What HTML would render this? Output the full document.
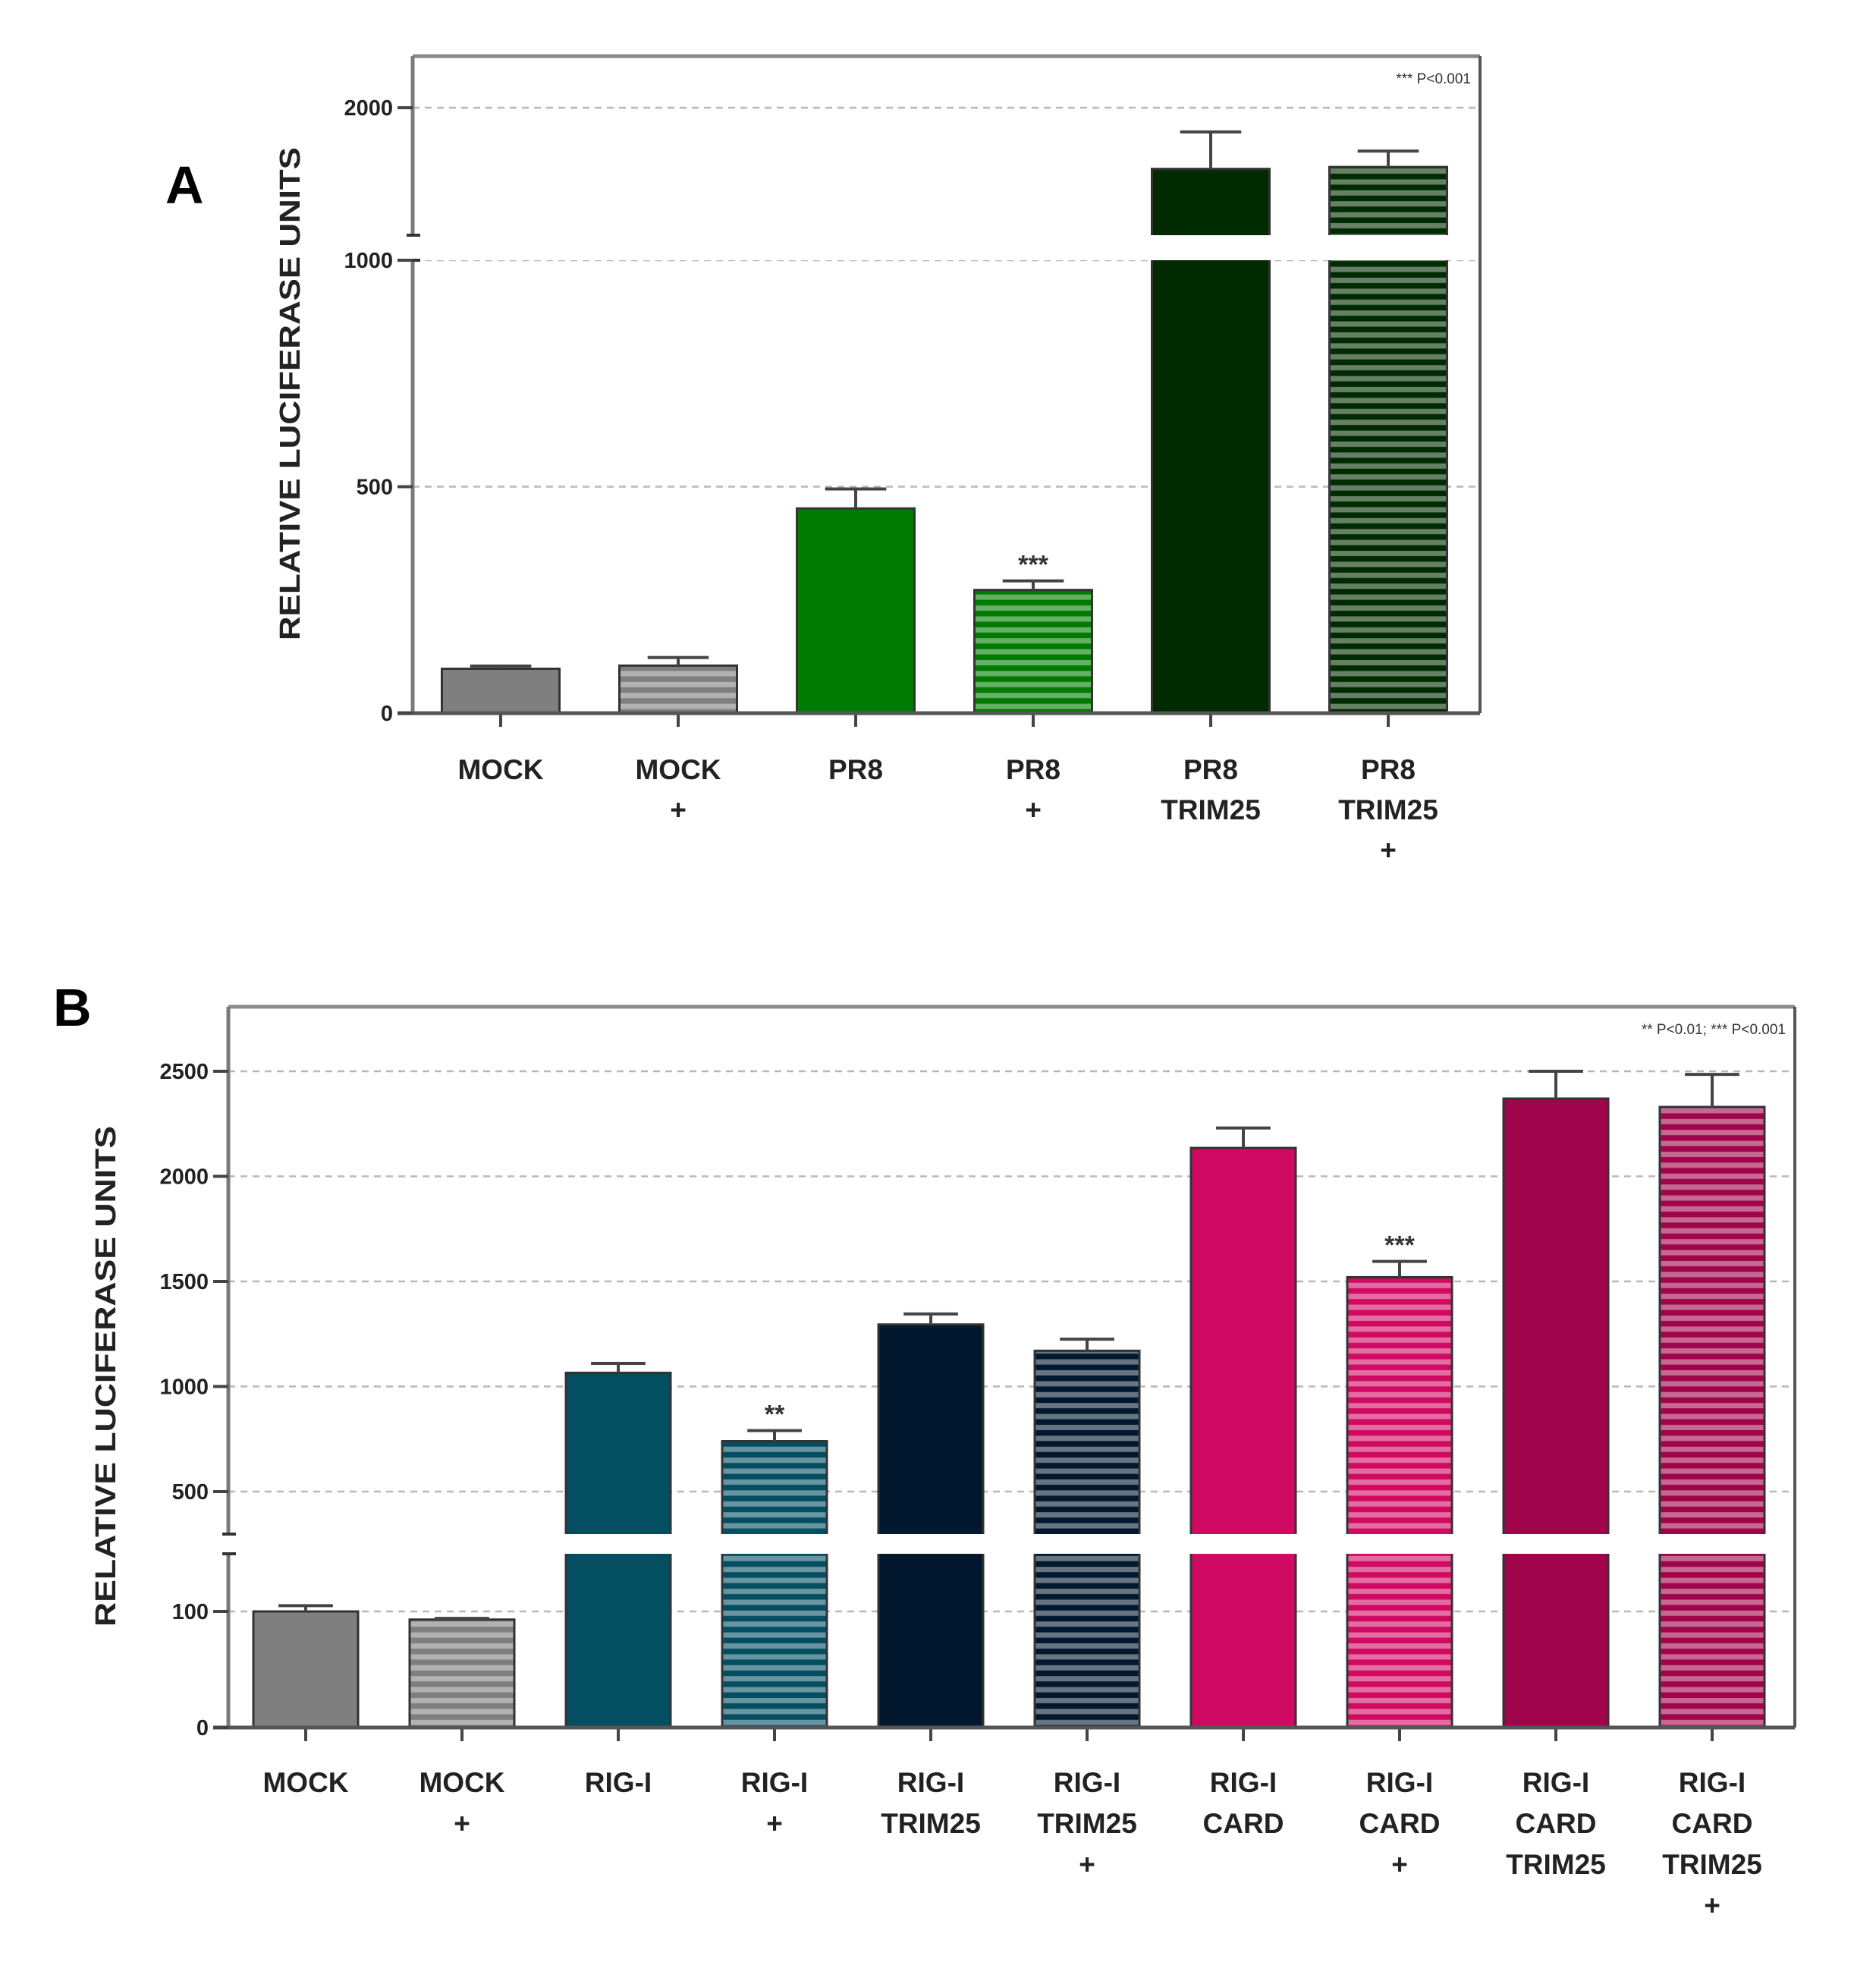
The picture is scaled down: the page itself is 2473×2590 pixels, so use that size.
<!DOCTYPE html>
<html><head><meta charset="utf-8"><style>
html,body{margin:0;padding:0;background:#fff;}
svg{display:block;font-family:"Liberation Sans",Arial,sans-serif;}
</style></head><body>
<svg id="fig" width="2473" height="2590" viewBox="0 0 2473 2590">
<defs id="defs"></defs>
</svg>
<script>
// ---------- Panel A data ----------
const catsA = [["MOCK"],["MOCK","+"],["PR8"],["PR8","+"],["PR8","TRIM25"],["PR8","TRIM25","+"]];
const valsA = [98, 105, 452, 272, 1520, 1535];
const errsA = [6, 18, 43, 20, 290, 125];
const colorsA = ["#7f7f7f","#7f7f7f","#007a00","#007a00","#002b00","#002b00"];
const hatchA = [false,true,false,true,false,true];
const starsA = ["","","","***","",""];
const ticksA = [0,500,1000,2000];
// ---------- Panel B data ----------
const catsB = [["MOCK"],["MOCK","+"],["RIG-I"],["RIG-I","+"],["RIG-I","TRIM25"],["RIG-I","TRIM25","+"],["RIG-I","CARD"],["RIG-I","CARD","+"],["RIG-I","CARD","TRIM25"],["RIG-I","CARD","TRIM25","+"]];
const valsB = [100, 93, 1065, 740, 1295, 1170, 2135, 1520, 2370, 2330];
const errsB = [5, 1, 45, 50, 50, 55, 95, 75, 130, 155];
const colorsB = ["#7f7f7f","#7f7f7f","#044e62","#044e62","#01182e","#01182e","#d00a62","#d00a62","#a0044a","#a0044a"];
const hatchB = [false,true,false,true,false,true,false,true,false,true];
const starsB = ["","","","**","","","","***","",""];
const ticksB = [0,100,500,1000,1500,2000,2500];

const NS="http://www.w3.org/2000/svg";
const svg=document.getElementById('fig');
const defs=document.getElementById('defs');
function mk(tag,attrs,parent){const e=document.createElementNS(NS,tag);for(const k in attrs)e.setAttribute(k,attrs[k]);(parent||svg).appendChild(e);return e;}
function lighten(hex,f){const n=parseInt(hex.slice(1),16);let r=n>>16,g=(n>>8)&255,b=n&255;r=Math.round(r+(255-r)*f);g=Math.round(g+(255-g)*f);b=Math.round(b+(255-b)*f);return `rgb(${r},${g},${b})`;}
let patId=0;
function hatchFill(color){
  const id='hp'+(patId++);
  const p=mk('pattern',{id:id,patternUnits:'userSpaceOnUse',width:10,height:14.4},defs);
  mk('rect',{x:0,y:0,width:10,height:14.4,fill:color},p);
  mk('rect',{x:0,y:6,width:10,height:7,fill:lighten(color,0.4)},p);
  return 'url(#'+id+')';
}

// Panel A scale (broken axis)
function yA(v){ if(v<=1000) return 940-(v/1000)*597; return 310-(v-1000)*0.168; }
// Panel B scale (broken axis)
function yB(v){ if(v<=150) return 2277-(v/100)*153; return 2020-(v-305)*0.277; }

function panel(o){
  const g=mk('g',{});  
  const {L,R,T,B,y,cats,vals,errs,colors,hatch,stars,ticks,cx0,dx,bw,breakTop,breakBot}=o;
  ticks.forEach(t=>{ if(t===0) return;
    const gl=mk('line',{x1:L,x2:R,y1:y(t),y2:y(t),stroke:'#b8b8b8','stroke-width':2.5,'stroke-dasharray':'9 7'},g);
     
  });
  mk('line',{x1:L,x2:R,y1:T,y2:T,stroke:'#8a8a8a','stroke-width':5},g);
  mk('line',{x1:R,x2:R,y1:T,y2:B,stroke:'#555','stroke-width':4},g);
  vals.forEach((v,i)=>{
    const cx=cx0+i*dx, top=y(v);
    const fill=hatch[i]?hatchFill(colors[i]):colors[i];
    const b=mk('rect',{x:cx-bw/2,y:top,width:bw,height:B-top,fill:fill,stroke:'#333','stroke-width':3},g);
    
    
    const et=y(v+errs[i]);
    const e1=mk('line',{x1:cx,x2:cx,y1:top,y2:et,stroke:'#444','stroke-width':4},g);
     
    mk('line',{x1:cx-bw*0.26,x2:cx+bw*0.26,y1:et,y2:et,stroke:'#444','stroke-width':4},g);
    if(stars[i]){const s=mk('text',{x:cx,y:et-10,'text-anchor':'middle','font-size':34,'font-weight':'bold',fill:'#333'},g);s.textContent=stars[i];
       }
    mk('line',{x1:cx,x2:cx,y1:B,y2:B+18,stroke:'#444','stroke-width':4},g);
    cats[i].forEach((ln,k)=>{const t=mk('text',{x:cx,y:o.labY+k*o.labDy,'text-anchor':'middle','font-size':37,'font-weight':'bold',fill:'#222'},g);t.textContent=ln;
       });
  });
  mk('rect',{x:L+4,y:breakTop,width:R-L-8,height:breakBot-breakTop,fill:'#fff'},g);
  mk('line',{x1:L,x2:L,y1:T,y2:breakTop,stroke:'#7a7a7a','stroke-width':5},g);
  mk('line',{x1:L,x2:L,y1:breakBot,y2:B,stroke:'#7a7a7a','stroke-width':5},g);
  mk('line',{x1:L-8,x2:L+10,y1:breakTop,y2:breakTop,stroke:'#333','stroke-width':4},g);
  mk('line',{x1:L-8,x2:L+10,y1:breakBot,y2:breakBot,stroke:'#333','stroke-width':4},g);
  mk('line',{x1:L-20,x2:R,y1:B,y2:B,stroke:'#555','stroke-width':5},g);
  ticks.forEach(t=>{
    mk('line',{x1:L-20,x2:L,y1:y(t),y2:y(t),stroke:'#444','stroke-width':4},g);
    const tl=mk('text',{x:L-26,y:y(t)+10,'text-anchor':'end','font-size':29,'font-weight':'bold',fill:'#222'},g);tl.textContent=t;
     
  });
  const yt=mk('text',{transform:`translate(${o.ytX},${o.ytY}) rotate(-90)`,'text-anchor':'middle','font-size':38,'font-weight':'bold',fill:'#222',textLength:o.ytLen,lengthAdjust:'spacingAndGlyphs'},g);
  yt.textContent='RELATIVE LUCIFERASE UNITS';
   
  const pv=mk('text',{x:R-12,y:T+36,'text-anchor':'end','font-size':19,fill:'#333'},g);pv.textContent=o.pText;
   
  const pl=mk('text',{x:o.letX,y:o.letY,'font-size':70,'font-weight':'bold',fill:'#000'},g);pl.textContent=o.letter;
   
}

panel({name:'panel-a-chart',L:544,R:1951,T:74,B:940,y:yA,cats:catsA,vals:valsA,errs:errsA,colors:colorsA,hatch:hatchA,stars:starsA,ticks:ticksA,
  cx0:660,dx:234,bw:155,breakTop:310,breakBot:343,labY:1027,labDy:53,ytX:395,ytY:519,ytLen:650,pText:'*** P<0.001',letX:218,letY:268,letter:'A'});
panel({name:'panel-b-chart',L:301,R:2366,T:1327,B:2277,y:yB,cats:catsB,vals:valsB,errs:errsB,colors:colorsB,hatch:hatchB,stars:starsB,ticks:ticksB,
  cx0:403,dx:206,bw:138,breakTop:2022,breakBot:2048,labY:2362,labDy:54,ytX:152,ytY:1814,ytLen:660,pText:'** P<0.01; *** P<0.001',letX:70,letY:1352,letter:'B'});
</script>
</body></html>
